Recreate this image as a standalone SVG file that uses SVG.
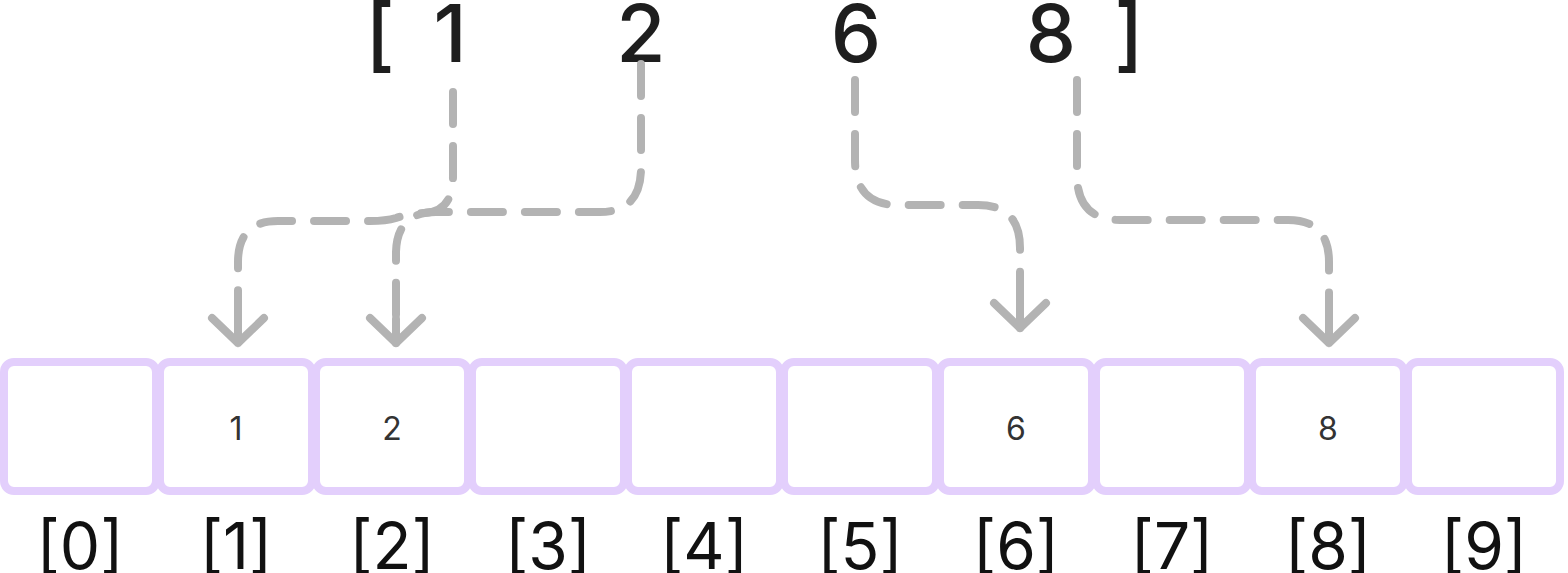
<svg xmlns="http://www.w3.org/2000/svg" width="1568" height="573" viewBox="0 0 1568 573">
  <style>
    .cell { fill: #ffffff; stroke: #e3cffc; stroke-width: 8; }
    .val { font-family: Inter, "Noto Sans", sans-serif; font-size: 32px; fill: #333333; text-anchor: middle; }
    .idx { font-family: Inter, "Noto Sans", sans-serif; font-size: 64px; fill: #111111; text-anchor: middle; }
    .head { font-family: Inter, "Noto Sans", sans-serif; font-size: 80px; font-weight: 500; fill: #1e1e1e; text-anchor: middle; }
    .link { fill: none; stroke: #b3b3b3; stroke-width: 8; stroke-linecap: round; stroke-linejoin: round; stroke-dasharray: 32 22; marker-end: url(#chevron); }
  </style>
  <defs>
    <marker id="chevron" markerUnits="userSpaceOnUse" viewBox="-40 -40 50 80" refX="0" refY="0" markerWidth="50" markerHeight="80" orient="auto" overflow="visible">
      <path d="M-25,-26 L0,0 L-25,26 M-24,0 L0,0" fill="none" stroke="#b3b3b3" stroke-width="8" stroke-linecap="round" stroke-linejoin="round"/>
    </marker>
  </defs>

  <!-- source sequence -->
  <g id="source">
    <text class="head" x="380" y="62">[</text>
    <text class="head" x="450" y="62">1</text>
    <text class="head" x="641" y="62">2</text>
    <text class="head" x="856" y="62">6</text>
    <text class="head" x="1051" y="62">8</text>
    <text class="head" x="1129" y="62">]</text>
  </g>

  <!-- connectors from each value to its slot -->
  <g id="connectors">
    <path class="link" d="M453,92 V176 Q453,212 424,213 Q408,214 396,218 Q386,221 370,221 H278 Q238,221 238,262 V343"/>
    <path class="link" d="M641,64 V168 Q641,212 600,212 H436 Q397,212 396,252 V343"/>
    <path class="link" d="M855,80 V160 Q855,205 898,205 H978 Q1020,205 1020,248 V328"/>
    <path class="link" d="M1077,80 V175 Q1077,220 1120,220 H1288 Q1329,220 1329,262 V343"/>
  </g>

  <!-- slots -->
  <g id="slot-0"><rect class="cell" x="4" y="362" width="152" height="129" rx="10"/><text class="idx" x="80" y="569">[0]</text></g>
  <g id="slot-1"><rect class="cell" x="160" y="362" width="152" height="129" rx="10"/><text class="val" x="236" y="440">1</text><text class="idx" x="236" y="569">[1]</text></g>
  <g id="slot-2"><rect class="cell" x="316" y="362" width="152" height="129" rx="10"/><text class="val" x="392" y="440">2</text><text class="idx" x="392" y="569">[2]</text></g>
  <g id="slot-3"><rect class="cell" x="472" y="362" width="152" height="129" rx="10"/><text class="idx" x="548" y="569">[3]</text></g>
  <g id="slot-4"><rect class="cell" x="628" y="362" width="152" height="129" rx="10"/><text class="idx" x="704" y="569">[4]</text></g>
  <g id="slot-5"><rect class="cell" x="784" y="362" width="152" height="129" rx="10"/><text class="idx" x="860" y="569">[5]</text></g>
  <g id="slot-6"><rect class="cell" x="940" y="362" width="152" height="129" rx="10"/><text class="val" x="1016" y="440">6</text><text class="idx" x="1016" y="569">[6]</text></g>
  <g id="slot-7"><rect class="cell" x="1096" y="362" width="152" height="129" rx="10"/><text class="idx" x="1172" y="569">[7]</text></g>
  <g id="slot-8"><rect class="cell" x="1252" y="362" width="152" height="129" rx="10"/><text class="val" x="1328" y="440">8</text><text class="idx" x="1328" y="569">[8]</text></g>
  <g id="slot-9"><rect class="cell" x="1408" y="362" width="152" height="129" rx="10"/><text class="idx" x="1484" y="569">[9]</text></g>
</svg>
